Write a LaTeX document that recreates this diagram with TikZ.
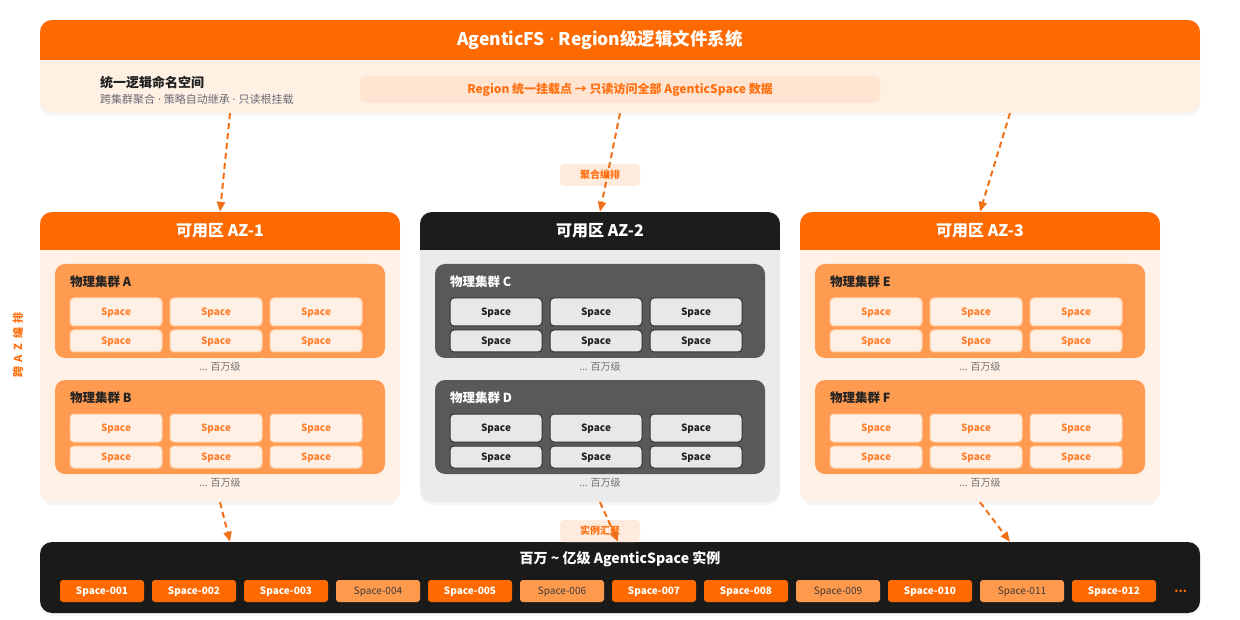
\documentclass[tikz,border=0pt]{standalone}
\usepackage{fontspec}
\setmainfont{Noto Sans CJK SC}
\newfontfamily\latinfont{Noto Sans}
\newcommand\middot{{\latinfont\ ·\ }}
\usetikzlibrary{positioning, shadows, arrows.meta, calc}

\definecolor{hdo}{HTML}{FF6A00}
\definecolor{hdd}{HTML}{1C1C1C}
\definecolor{fsbody}{HTML}{FFF0E4}
\definecolor{pillc}{HTML}{FFE4D2}
\definecolor{orangetxt}{HTML}{FF7010}
\definecolor{darktxt}{HTML}{1F1F1F}
\definecolor{subgray}{HTML}{6B6B75}
\definecolor{azo}{HTML}{FFF1E6}
\definecolor{azd}{HTML}{EBEBEB}
\definecolor{clo}{HTML}{FF9B50}
\definecolor{cld}{HTML}{595959}
\definecolor{sfo}{HTML}{FFF0E5}
\definecolor{sfd}{HTML}{E8E8E8}
\definecolor{sbo}{HTML}{FFCFA8}
\definecolor{sbd}{HTML}{333333}
\definecolor{sto}{HTML}{FF8030}
\definecolor{std}{HTML}{222222}
\definecolor{cto}{HTML}{222222}
\definecolor{ctd}{HTML}{FFFFFF}
\definecolor{moregray}{HTML}{707070}
\definecolor{barc}{HTML}{1A1A1A}
\definecolor{ia}{HTML}{FF6A00}
\definecolor{ib}{HTML}{FF9A4D}
\definecolor{ta}{HTML}{FFFFFF}
\definecolor{tb}{HTML}{3A3A3A}
\definecolor{tagfill}{HTML}{FFEBDD}
\definecolor{arrowc}{HTML}{F07018}

\begin{document}
\begin{tikzpicture}[x=1pt,y=-1pt,>={Triangle[length=10pt,width=8pt]},
  panel/.style={rounded corners=12pt,inner sep=0pt,
    drop shadow={opacity=0.07,shadow xshift=0pt,shadow yshift=-3pt}},
  hdr/.style 2 args={path picture={\fill[#1,sharp corners] (path picture bounding box.north west)
    rectangle ([yshift=-#2]path picture bounding box.north east);}},
  hdrtxt/.style={text=white,font=\bfseries\fontsize{16}{18}\selectfont,minimum height=38pt,inner sep=0pt,anchor=north},
  cluster/.style={fill=cl#1,rounded corners=10pt,minimum width=330pt,minimum height=94pt,inner sep=0pt},
  cltitle/.style={text=ct#1,font=\bfseries\fontsize{12.5}{14}\selectfont,inner sep=0pt,anchor=west},
  space/.style={fill=sf#1,draw=sb#1,line width=1pt,text=st#1,rounded corners=4pt,minimum width=92pt,
    inner sep=0pt,text height=7pt,text depth=0pt,font=\bfseries\fontsize{10}{12}\selectfont},
  more/.style={text=moregray,font=\fontsize{10}{12}\selectfont,inner sep=0pt},
  tag/.style={fill=tagfill,rounded corners=4pt,minimum width=80pt,minimum height=22pt,inner sep=0pt,
    text=orangetxt,font=\bfseries\fontsize{10}{12}\selectfont},
  inst/.style={rounded corners=3pt,minimum width=84pt,minimum height=22pt,inner sep=0pt,
    text height=7pt,text depth=0pt,ins#1},
  insa/.style={fill=ia,text=ta,font=\bfseries\fontsize{10}{12}\selectfont},
  insb/.style={fill=ib,text=tb,font=\fontsize{10}{12}\selectfont},
  flow/.style={->,draw=arrowc,line width=2pt,dash pattern=on 6pt off 4pt}]
  \fill[white] (0,0) rectangle (1240,620);
  \useasboundingbox (0,0) rectangle (1240,620);

  % region level file system
  \node[panel,fill=fsbody,hdr={hdo}{40pt},minimum width=1160pt,minimum height=93pt] (fs) at (620,66.5) {};
  \node[hdrtxt,minimum height=40pt,font=\bfseries\fontsize{17.5}{20}\selectfont] (fstitle) at (600,20) {AgenticFS\middot Region级逻辑文件系统};
  \node[text=darktxt,font=\bfseries\fontsize{13}{15}\selectfont,inner sep=0pt,anchor=west] (ns) at (100,83) {统一逻辑命名空间};
  \node[text=subgray,font=\fontsize{11}{13}\selectfont,inner sep=0pt,below right=4pt and 0pt of ns.south west] (nssub) {跨集群聚合\middot 策略自动继承\middot 只读根挂载};
  \node[fill=pillc,rounded corners=6pt,minimum width=520pt,minimum height=27pt,inner sep=0pt,
    text=orangetxt,font=\bfseries\fontsize{12}{14}\selectfont] (mount) at (620,89.5) {Region 统一挂载点 → 只读访问全部 AgenticSpace 数据};

  % availability zones
  \foreach \n/\cx/\th in {1/220/o,2/600/d,3/980/o} {
    \node[panel,fill=az\th,hdr={hd\th}{38pt},minimum width=360pt,minimum height=290pt] (az\n) at (\cx,357) {};
    \node[hdrtxt] at (az\n.north) {可用区 AZ-\n};
  }
  \foreach \n/\cx/\cy/\th in {A/220/311/o,B/220/427/o,C/600/311/d,D/600/427/d,E/980/311/o,F/980/427/o} {
    \node[cluster=\th] (cl\n) at (\cx,\cy) {};
    \node[cltitle=\th] at ([xshift=15pt,yshift=-18pt]cl\n.north west) {物理集群 \n};
    \foreach \i/\dx in {1/-104,2/-4,3/96} {
      \node[space=\th,minimum height=28pt] (s\n\i) at (\cx+\dx,\cy+1) {Space};
      \node[space=\th,minimum height=22pt] (t\n\i) at (\cx+\dx,\cy+30) {Space};
    }
    \node[more] at ([yshift=-9pt]cl\n.south) {... 百万级};
  }
  \node[text=orangetxt,font=\bfseries\fontsize{11}{13}\selectfont,rotate=90,inner sep=0pt] (cross) at (18,345)
    {跨\hspace{4.5pt}A\hspace{4.5pt}Z\hspace{4.5pt}编\hspace{4.5pt}排};

  % instances
  \node[panel,fill=barc,minimum width=1160pt,minimum height=71pt] (bar) at (620,577.5) {};
  \node[text=white,font=\bfseries\fontsize{14}{16}\selectfont,inner sep=0pt] (bartitle) at (620,559) {百万 \textasciitilde{} 亿级 AgenticSpace 实例};
  \foreach \t/\k [count=\i] in {001/a,002/a,003/a,004/b,005/a,006/b,007/a,008/a,009/b,010/a,011/b,012/a}
    \node[inst=\k] (i\i) at (10+92*\i,591) {Space-\t};
  \node[text=hdo,font=\bfseries\fontsize{12}{14}\selectfont,inner sep=0pt,right=18pt of i12] (etc) {...};

  \node[tag] (agg) at (600,175) {聚合编排};
  \node[tag] (gather) at (600,531) {实例汇聚};

  \draw[flow] ($(az1.north |- fs.south)+(10,0)$) -- (az1.north);
  \draw[flow] (fs.south) -- (az2.north);
  \draw[flow] ($(az3.north |- fs.south)+(30,0)$) -- (az3.north);
  \draw[flow] (az1.south) -- ($(az1.south |- bar.north)+(10,0)$);
  \draw[flow] (az2.south) -- ($(az2.south |- bar.north)+(18,0)$);
  \draw[flow] (az3.south) -- ($(az3.south |- bar.north)+(30,0)$);
\end{tikzpicture}
\end{document}
